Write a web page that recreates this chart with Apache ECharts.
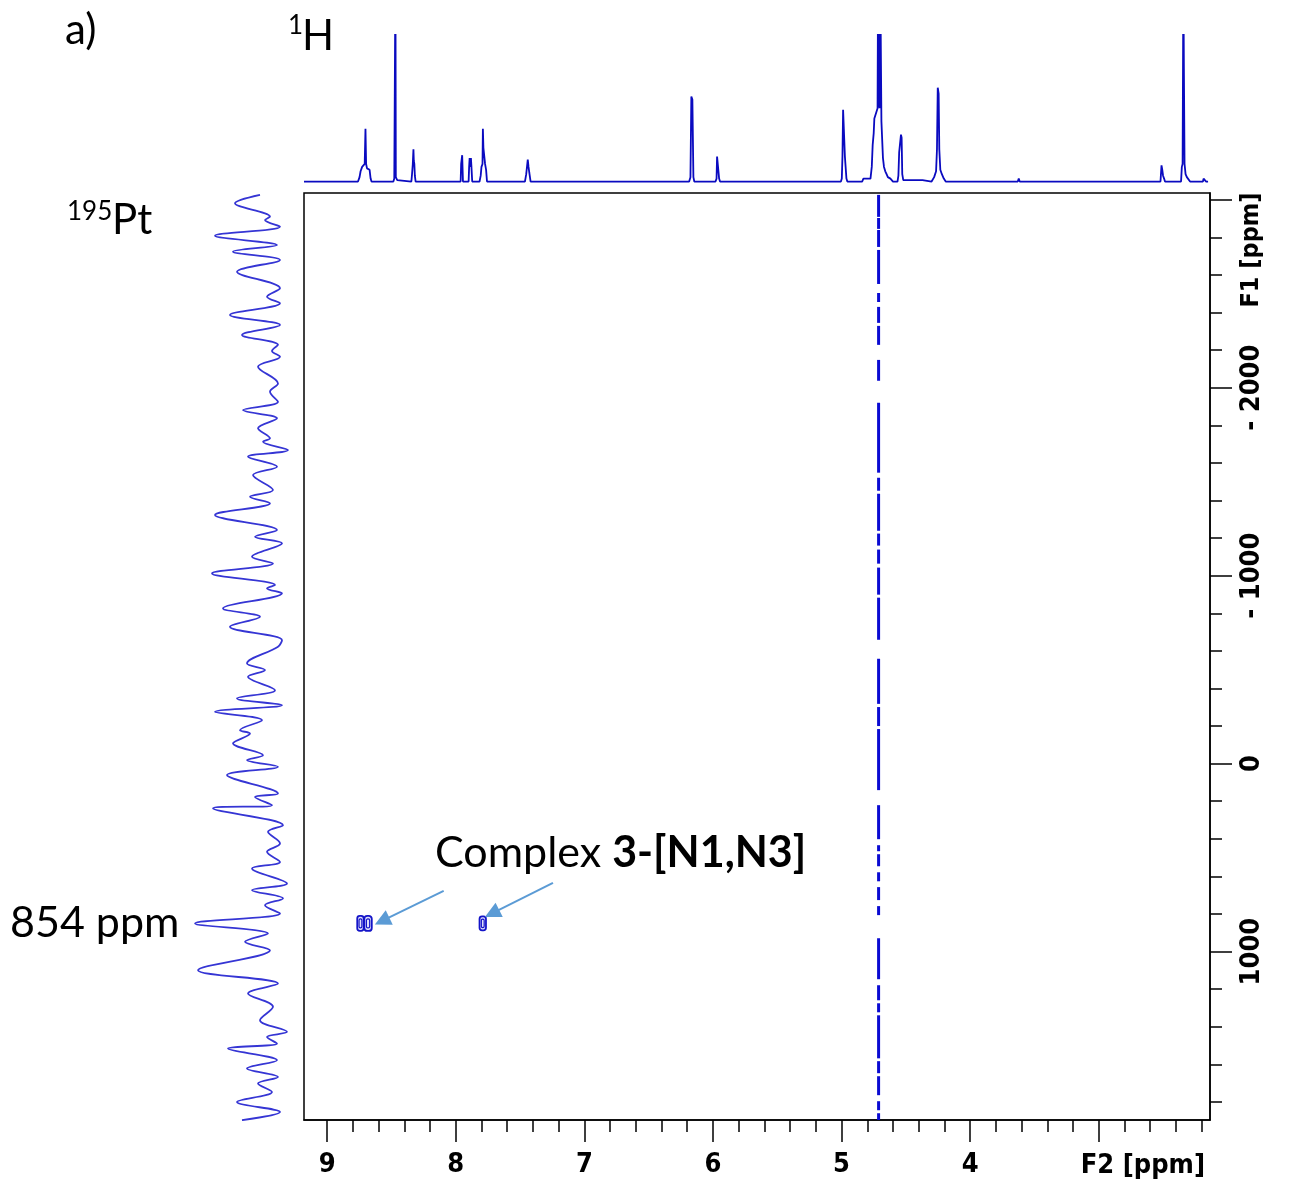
<!DOCTYPE html>
<html><head><meta charset="utf-8">
<script src="https://cdn.jsdelivr.net/npm/echarts@6/dist/echarts.min.js"></script>
<style>html,body{margin:0;padding:0;background:#fff}#c{width:1290px;height:1189px}</style>
</head><body><div id="c"></div>
<script>
// ---- axis ranges and ticks ----
const f2Range = [2.135, 9.18];          // 1H shift (ppm), drawn right-to-left
const f1Range = [-3036, 1896];          // 195Pt shift (ppm), negative at top
const f2MajorTicks = [9, 8, 7, 6, 5, 4, 3];
const f2TickLabels = [9, 8, 7, 6, 5, 4];
const f2MinorTicks = [8.8, 8.6, 8.4, 8.2, 7.8, 7.6, 7.4, 7.2, 6.8, 6.6, 6.4, 6.2, 5.8, 5.6, 5.4, 5.2, 4.8, 4.6, 4.4, 4.2, 3.8, 3.6, 3.4, 3.2, 2.8, 2.6, 2.4, 2.2];
const f1MajorTicks = [-3000, -2000, -1000, 0, 1000];
const f1TickLabels = [-2000, -1000, 0, 1000];
const f1MinorTicks = [-2800, -2600, -2400, -2200, -1800, -1600, -1400, -1200, -800, -600, -400, -200, 200, 400, 600, 800, 1200, 1400, 1600, 1800];

// ---- 1H projection: [ppm, intensity %] (values > 100 are clipped) ----
const protonTrace = [
  [9.18, 0], [8.760, 0], [8.748, 3], [8.740, 7], [8.728, 10], [8.716, 9], [8.708, 12], [8.702, 36], [8.697, 12], [8.690, 9], [8.680, 10], [8.670, 8], [8.662, 2], [8.655, 0],
  [8.485, 0], [8.478, 2], [8.472, 3], [8.469, 140], [8.466, 3], [8.455, 1], [8.450, 0],
  [8.345, 0], [8.340, 5], [8.334, 12], [8.329, 22], [8.326, 14], [8.322, 12], [8.318, 4], [8.312, 0],
  [7.962, 0], [7.958, 12], [7.952, 12], [7.950, 18], [7.946, 18], [7.944, 0],
  [7.900, 0], [7.896, 10], [7.892, 16], [7.888, 10], [7.882, 16], [7.878, 10], [7.872, 0],
  [7.815, 0], [7.806, 4], [7.800, 10], [7.792, 12], [7.789, 36], [7.785, 23], [7.778, 23], [7.772, 12], [7.764, 8], [7.757, 0],
  [7.462, 0], [7.452, 5], [7.446, 10], [7.440, 15], [7.434, 10], [7.428, 6], [7.418, 0],
  [6.185, 0], [6.175, 3], [6.168, 58], [6.160, 56], [6.152, 3], [6.145, 0],
  [5.980, 0], [5.972, 2], [5.968, 17], [5.963, 18], [5.958, 16], [5.952, 2], [5.945, 0],
  [5.005, 0], [4.998, 2], [4.993, 17], [4.988, 49], [4.980, 50], [4.974, 17], [4.968, 16], [4.962, 2], [4.955, 0],
  [4.840, 0], [4.830, 2], [4.820, 1], [4.775, 2], [4.765, 10], [4.758, 25], [4.750, 33], [4.745, 43], [4.738, 43], [4.733, 42], [4.720, 50], [4.716, 140], [4.712, 60], [4.705, 50], [4.699, 140], [4.695, 140], [4.690, 41], [4.683, 41], [4.678, 16], [4.670, 10], [4.660, 7], [4.650, 5], [4.640, 3], [4.620, 2], [4.600, 0],
  [4.565, 0], [4.558, 4], [4.552, 20], [4.545, 21], [4.538, 32], [4.533, 30], [4.528, 5], [4.520, 1], [4.500, 1], [4.490, 0], [4.470, 1], [4.455, 0], [4.370, 1], [4.360, 0],
  [4.300, 0], [4.280, 3], [4.265, 7], [4.258, 22], [4.252, 64], [4.245, 60], [4.240, 22], [4.232, 8], [4.220, 5], [4.205, 2], [4.190, 0],
  [3.630, 0], [3.622, 2], [3.615, 0],
  [2.520, 0], [2.512, 11], [2.506, 8], [2.500, 4], [2.492, 2], [2.485, 0],
  [2.360, 0], [2.354, 10], [2.348, 12], [2.342, 140], [2.338, 77], [2.333, 12], [2.325, 5], [2.315, 3], [2.300, 2], [2.290, 0],
  [2.190, 0], [2.185, 2], [2.178, 1], [2.172, 2], [2.165, 0], [2.150, 0]
];

// ---- 195Pt projection: F1 shift (ppm) and intensity ----
const ptShift = [-3026, -2981, -2910, -2892, -2857, -2809, -2759, -2724, -2680, -2617, -2529, -2484, -2449, -2387, -2334, -2281, -2228, -2196, -2165, -2112, -2023, -1979, -1925, -1881, -1837, -1784, -1731, -1713, -1668, -1633, -1580, -1535, -1456, -1420, -1385, -1323, -1243, -1207, -1172, -1101, -1065, -1012, -950, -932, -906, -826, -781, -728, -657, -622, -533, -498, -462, -391, -347, -311, -276, -231, -178, -160, -108, -45, -19, 17, 61, 159, 177, 221, 238, 328, 363, 425, 469, 523, 558, 638, 673, 717, 753, 797, 850, 904, 948, 993, 1099, 1170, 1223, 1294, 1365, 1427, 1454, 1489, 1516, 1578, 1622, 1667, 1702, 1747, 1800, 1853, 1897];
const ptIntensity = [30, 55, 20, 25, 10, 75, 13, 57, 10, 53, 10, 23, 10, 60, 10, 48, 12, 18, 10, 32, 12, 20, 12, 47, 13, 32, 20, 27, 2, 42, 13, 37, 17, 40, 20, 75, 13, 35, 8, 38, 17, 78, 15, 23, 8, 67, 30, 60, 8, 12, 43, 25, 42, 15, 53, 8, 75, 28, 50, 40, 57, 27, 43, 12, 63, 12, 35, 18, 77, 7, 22, 10, 23, 10, 38, 3, 38, 7, 25, 10, 95, 22, 45, 20, 92, 12, 42, 17, 30, 3, 23, 13, 62, 13, 43, 12, 32, 18, 53, 10, 48];

// ---- 2D map ----
const ridgeShift = 4.712;    // F2 ppm of the vertical ridge
const ridgeSegments = [[-3026, -2909], [-2903, -2845], [-2839, -2749], [-2733, -2552], [-2504, -2456], [-2430, -2345], [-2329, -2228], [-2148, -2037], [-1920, -1548], [-1521, -1452], [-1436, -1239], [-1224, -1160], [-1139, -1064], [-1043, -899], [-883, -659], [-558, -318], [-301, -200], [-184, 141], [221, 402], [434, 466], [482, 546], [578, 626], [657, 726], [758, 806], [929, 1147], [1179, 1259], [1275, 1323], [1339, 1568], [1583, 1647], [1663, 1764], [1796, 1844], [1860, 1897]];
// cross peaks: [F2 ppm, F1 ppm, width F2, width F1]
const crossPeaks = [[8.741, 850, 0.05, 80], [8.682, 850, 0.058, 80], [7.790, 850, 0.05, 75]];
// annotation arrows: [F2, F1] from -> to
const arrowFrom = [[8.094, 677], [7.244, 634]];
const arrowTo = [[8.573, 837], [7.718, 797]];

const BLACK = '#000';
const labelFont = "'DejaVu Sans Condensed', 'DejaVu Sans', sans-serif";
const textFont = "Lato, 'Open Sans', sans-serif";

const chart = echarts.init(document.getElementById('c'), null, {renderer: 'canvas'});

function renderRidge(params, api) {
  const p1 = api.coord([api.value(0), api.value(1)]);
  const p2 = api.coord([api.value(0), api.value(2)]);
  return {type: 'line', shape: {x1: p1[0], y1: p1[1], x2: p2[0], y2: p2[1]}, style: {stroke: '#0a0ad2', lineWidth: 3}};
}
function renderPeak(params, api) {
  const c = api.coord([api.value(0), api.value(1)]);
  const s = api.size([api.value(2), api.value(3)]);
  const w = s[0], h = s[1];
  return {type: 'group', children: [
    {type: 'rect', shape: {x: c[0] - w / 2, y: c[1] - h / 2, width: w, height: h, r: Math.min(w, h) / 2.5}, style: {fill: 'rgba(40,40,220,0.15)', stroke: '#1414c8', lineWidth: 1.8}},
    {type: 'rect', shape: {x: c[0] - w * 0.22, y: c[1] - h * 0.3, width: w * 0.44, height: h * 0.6, r: w * 0.2}, style: {fill: 'none', stroke: '#1414c8', lineWidth: 1.2}}
  ]};
}

const majorTickStyle = {show: true, length: 22, lineStyle: {color: BLACK, width: 1.5}};
const minorTickStyle = {show: true, length: 12, lineStyle: {color: BLACK, width: 1.5}};

chart.setOption({
  animation: false,
  backgroundColor: '#fff',
  grid: [
    {left: 304, top: 193, width: 906, height: 927, show: true, borderColor: BLACK, borderWidth: 1.5, backgroundColor: 'transparent'},
    {left: 304, top: 35, width: 906, height: 148},
    {left: 190, top: 193, width: 100, height: 927}
  ],
  xAxis: [
    {gridIndex: 0, type: 'value', min: f2Range[0], max: f2Range[1], inverse: true, position: 'bottom',
     axisLine: {show: true, onZero: false, lineStyle: {color: BLACK, width: 1.5}},
     axisTick: Object.assign({customValues: f2MajorTicks}, majorTickStyle),
     axisLabel: {customValues: f2TickLabels, margin: 31, color: BLACK, fontSize: 27, fontWeight: 'bold', fontFamily: labelFont},
     splitLine: {show: false}},
    {gridIndex: 0, type: 'value', min: f2Range[0], max: f2Range[1], inverse: true, position: 'bottom',
     axisLine: {show: false, onZero: false}, axisTick: Object.assign({customValues: f2MinorTicks}, minorTickStyle),
     axisLabel: {show: false}, splitLine: {show: false}},
    {gridIndex: 1, type: 'value', min: f2Range[0], max: f2Range[1], inverse: true, show: false},
    {gridIndex: 2, type: 'value', min: 0, max: 100, inverse: true, show: false}
  ],
  yAxis: [
    {gridIndex: 0, type: 'value', min: f1Range[0], max: f1Range[1], inverse: true, position: 'right',
     axisLine: {show: true, onZero: false, lineStyle: {color: BLACK, width: 1.5}},
     axisTick: Object.assign({customValues: f1MajorTicks}, majorTickStyle),
     axisLabel: {customValues: f1TickLabels, rotate: 90, margin: 28, color: BLACK, fontSize: 27, fontWeight: 'bold', fontFamily: labelFont,
       formatter: v => (v < 0 ? '- ' + Math.abs(v) : String(v))},
     splitLine: {show: false}},
    {gridIndex: 0, type: 'value', min: f1Range[0], max: f1Range[1], inverse: true, position: 'right',
     axisLine: {show: false, onZero: false}, axisTick: Object.assign({customValues: f1MinorTicks}, minorTickStyle),
     axisLabel: {show: false}, splitLine: {show: false}},
    {gridIndex: 1, type: 'value', min: -1, max: 100, show: false},
    {gridIndex: 2, type: 'value', min: f1Range[0], max: f1Range[1], inverse: true, show: false}
  ],
  series: [
    {type: 'custom', name: 'ridge', xAxisIndex: 0, yAxisIndex: 0, renderItem: renderRidge, clip: true,
     data: ridgeSegments.map(s => [ridgeShift, s[0], s[1]])},
    {type: 'custom', name: 'cross peaks', xAxisIndex: 0, yAxisIndex: 0, renderItem: renderPeak,
     data: crossPeaks},
    {type: 'lines', coordinateSystem: 'cartesian2d', xAxisIndex: 0, yAxisIndex: 0,
     symbol: ['none', 'triangle'], symbolSize: 16,
     lineStyle: {color: '#5b9bd5', width: 2, curveness: 0, opacity: 1},
     data: arrowFrom.map((a, i) => ({coords: [a, arrowTo[i]]}))},
    {type: 'line', name: '1H', xAxisIndex: 2, yAxisIndex: 2, data: protonTrace, showSymbol: false, symbol: 'none',
     clip: true, lineStyle: {color: '#0a0ac0', width: 1.8}},
    {type: 'line', name: '195Pt', xAxisIndex: 3, yAxisIndex: 3, showSymbol: false, symbol: 'none', smooth: 0.35,
     data: ptShift.map((s, i) => [ptIntensity[i], s]), lineStyle: {color: '#3535d4', width: 1.8}}
  ],
  graphic: [
    {type: 'text', x: 65, y: 30, style: {text: 'a)', fontSize: 42, fontFamily: textFont, fill: BLACK, verticalAlign: 'middle'}},
    {type: 'text', x: 288, y: 26, style: {text: '1', fontSize: 26, fontFamily: textFont, fill: BLACK, verticalAlign: 'middle'}},
    {type: 'text', x: 302, y: 36, style: {text: 'H', fontSize: 42, fontFamily: textFont, fill: BLACK, verticalAlign: 'middle'}},
    {type: 'text', x: 67, y: 212, style: {text: '195', fontSize: 26, fontFamily: textFont, fill: BLACK, verticalAlign: 'middle'}},
    {type: 'text', x: 112, y: 220, style: {text: 'Pt', fontSize: 42, fontFamily: textFont, fill: BLACK, verticalAlign: 'middle'}},
    {type: 'text', x: 10, y: 923, style: {text: '854 ppm', fontSize: 43, fontFamily: textFont, fill: BLACK, verticalAlign: 'middle'}},
    {type: 'text', x: 435, y: 853, style: {text: '{n|Complex }{b|3-[N1,N3]}', fill: BLACK, verticalAlign: 'middle',
      rich: {n: {fontSize: 43, fontFamily: textFont, fill: BLACK}, b: {fontSize: 43, fontFamily: textFont, fontWeight: 'bold', fill: BLACK}}}},
    {type: 'text', x: 1205, y: 1166, style: {text: 'F2 [ppm]', fontSize: 27, fontWeight: 'bold', fontFamily: labelFont, fill: BLACK, align: 'right', verticalAlign: 'middle'}},
    {type: 'text', x: 1251, y: 250, rotation: Math.PI / 2, style: {text: 'F1 [ppm]', fontSize: 25, fontWeight: 'bold', fontFamily: labelFont, fill: BLACK, align: 'center', verticalAlign: 'middle'}}
  ]
});
</script></body></html>
